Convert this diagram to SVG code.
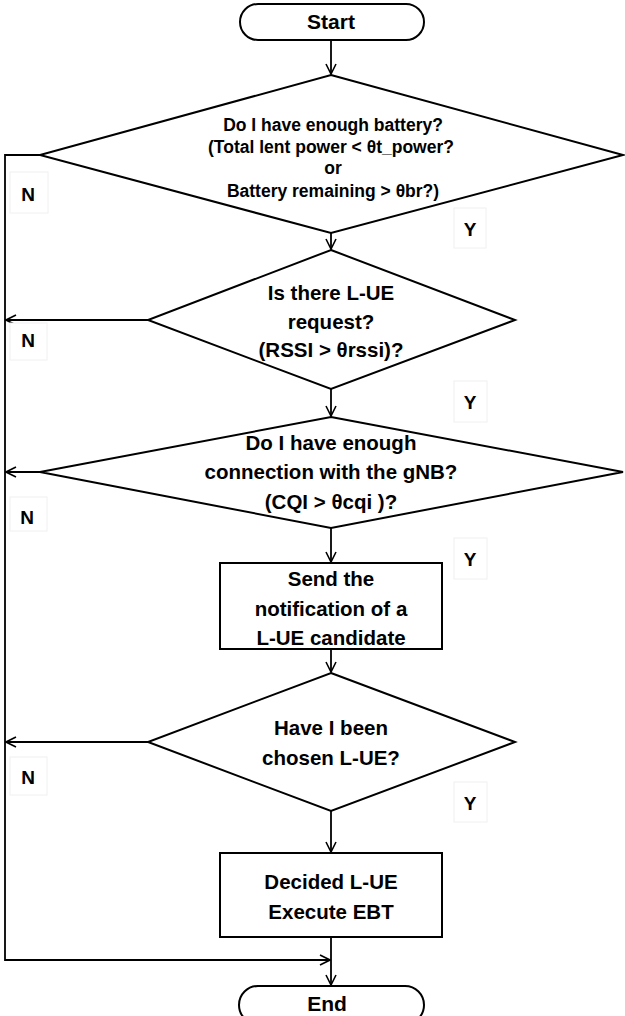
<svg xmlns="http://www.w3.org/2000/svg" width="625" height="1016" viewBox="0 0 625 1016">
<style>
.shape{fill:#fff;stroke:#000;stroke-width:2}
.conn{fill:none;stroke:#000;stroke-width:1.8}
.t{font-family:"Liberation Sans",Arial,sans-serif;font-weight:bold;font-size:20.5px;text-anchor:middle;dominant-baseline:central;fill:#000}
.t1{font-size:17.5px}
.te{font-size:21px}
.lbl{font-family:"Liberation Sans",Arial,sans-serif;font-weight:bold;font-size:19px;text-anchor:middle;dominant-baseline:central;fill:#000}
.lb{fill:#fff;stroke:#f0f0f0;stroke-width:1}
</style>
<defs>
<marker id="arr" viewBox="0 0 12 12" refX="11" refY="6" markerWidth="12" markerHeight="12" markerUnits="userSpaceOnUse" orient="auto">
<path d="M1,1 L11,6 L1,11" fill="none" stroke="#000" stroke-width="1.6"/>
</marker>
</defs>
<rect width="625" height="1016" fill="#fff"/>
<g id="connectors">
<line class="conn" x1="331" y1="41" x2="331" y2="74" marker-end="url(#arr)"/>
<line class="conn" x1="331" y1="233" x2="331" y2="249" marker-end="url(#arr)"/>
<line class="conn" x1="331" y1="389" x2="331" y2="416" marker-end="url(#arr)"/>
<line class="conn" x1="331" y1="528" x2="331" y2="562" marker-end="url(#arr)"/>
<line class="conn" x1="331" y1="649" x2="331" y2="672" marker-end="url(#arr)"/>
<line class="conn" x1="331" y1="811" x2="331" y2="852" marker-end="url(#arr)"/>
<line class="conn" x1="331" y1="937" x2="331" y2="985" marker-end="url(#arr)"/>
<polyline class="conn" points="40,155 5,155 5,960 330,960" marker-end="url(#arr)"/>
<line class="conn" x1="148" y1="320" x2="6" y2="320" marker-end="url(#arr)"/>
<line class="conn" x1="40" y1="472" x2="6" y2="472" marker-end="url(#arr)"/>
<line class="conn" x1="148" y1="742" x2="6" y2="742" marker-end="url(#arr)"/>
</g>
<g id="labels">
<rect class="lb" x="10" y="172" width="38" height="41"/><text class="lbl" x="28" y="194">N</text>
<rect class="lb" x="454" y="208" width="32" height="40"/><text class="lbl" x="470" y="229">Y</text>
<rect class="lb" x="10" y="323" width="37" height="37"/><text class="lbl" x="28" y="340">N</text>
<rect class="lb" x="454" y="381" width="33" height="41"/><text class="lbl" x="470" y="402">Y</text>
<rect class="lb" x="10" y="497" width="37" height="34"/><text class="lbl" x="27" y="517">N</text>
<rect class="lb" x="454" y="538" width="33" height="41"/><text class="lbl" x="470" y="559">Y</text>
<rect class="lb" x="10" y="757" width="37" height="38"/><text class="lbl" x="28" y="777">N</text>
<rect class="lb" x="454" y="782" width="33" height="40"/><text class="lbl" x="470" y="803">Y</text>
</g>
<g id="start">
<rect class="shape" x="240" y="4" width="184" height="36" rx="18" ry="18"/>
<text class="t te" x="331" y="21">Start</text>
</g>
<g id="battery">
<polygon class="shape" points="331,75 623,155 331,233 40,155"/>
<text class="t t1" x="333" y="125">Do I have enough battery?</text>
<text class="t t1" x="331" y="147">(Total lent power &lt; θt_power?</text>
<text class="t t1" x="333" y="168">or</text>
<text class="t t1" x="333" y="191">Battery remaining &gt; θbr?)</text>
</g>
<g id="request">
<polygon class="shape" points="331,250 515,320 331,389 148,320"/>
<text class="t" x="331" y="292">Is there L-UE</text>
<text class="t" x="331" y="321">request?</text>
<text class="t" x="331" y="349">(RSSI &gt; θrssi)?</text>
</g>
<g id="connection">
<polygon class="shape" points="331,417 623,472 331,528 40,472"/>
<text class="t" x="331" y="442">Do I have enough</text>
<text class="t" x="331" y="471">connection with the gNB?</text>
<text class="t" x="331" y="501">(CQI &gt; θcqi )?</text>
</g>
<g id="notify">
<rect class="shape" x="220" y="563" width="222" height="86"/>
<text class="t" x="331" y="578">Send the</text>
<text class="t" x="331" y="608">notification of a</text>
<text class="t" x="331" y="637">L-UE candidate</text>
</g>
<g id="chosen">
<polygon class="shape" points="331,673 515,742 331,811 148,742"/>
<text class="t" x="331" y="727">Have I been</text>
<text class="t" x="331" y="757">chosen L-UE?</text>
</g>
<g id="decided">
<rect class="shape" x="220" y="853" width="222" height="84"/>
<text class="t" x="331" y="881">Decided L-UE</text>
<text class="t" x="331" y="911">Execute EBT</text>
</g>
<g id="end">
<rect class="shape" x="239" y="986" width="185" height="38" rx="19" ry="19"/>
<text class="t te" x="327" y="1003">End</text>
</g>
</svg>
